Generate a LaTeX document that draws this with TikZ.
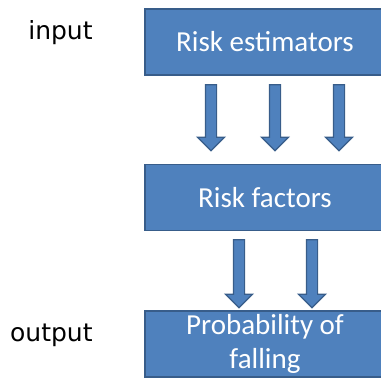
\documentclass[tikz,border=0pt]{standalone}
\usepackage{fontspec}
\setmainfont{Carlito}
\newfontfamily\labelfont{DejaVu Sans}
\usetikzlibrary{shapes.arrows}
\definecolor{boxfill}{RGB}{79,129,189}
\definecolor{boxline}{RGB}{56,93,138}
\tikzset{every picture/.style={line width=0.75pt}}
\begin{document}
\begin{tikzpicture}[x=1pt,y=1pt,yscale=-1,xscale=1,
  stagebox/.style={draw=boxline, fill=boxfill, line width=1.5pt, minimum width=240pt, minimum height=66pt, inner sep=0pt, text=white, font=\fontsize{29}{34}\selectfont, align=center},
  blockarrow/.style={single arrow, draw=boxline, fill=boxfill, line width=1.2pt, shape border rotate=270, inner sep=5pt, single arrow head extend=8pt, minimum height=66pt},
  sidelabel/.style={anchor=east, inner sep=0pt, font=\labelfont\fontsize{25}{29}\selectfont}]
%set diagram at 381 x 378
\clip (0,0) rectangle (381,378);

%Shape: Rectangle (estimators)
\node [stagebox] (estimators) at (265,42) {Risk estimators};
%Shape: Rectangle (factors)
\node [stagebox] (factors) at (265,197.5) {Risk factors};
%Shape: Rectangle (falling)
\node [stagebox] (falling) at (265,344) {Probability of\\falling};

%Block Arrows estimators -> factors
\node [blockarrow] (arrA) at (211,115) {};
\node [blockarrow] (arrB) at (275,115) {};
\node [blockarrow] (arrC) at (339,115) {};
%Block Arrows factors -> falling
\node [blockarrow, minimum height=68pt] (arrD) at (239,271) {};
\node [blockarrow, minimum height=68pt] (arrE) at (312,271) {};

% Text Node
\node [sidelabel] (inlabel) at (93,33) {input};
% Text Node
\node [sidelabel] (outlabel) at (93,335) {output};

\end{tikzpicture}
\end{document}
